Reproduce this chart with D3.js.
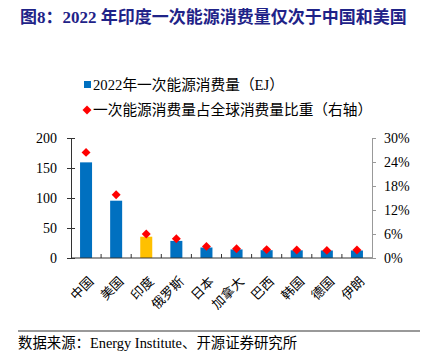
<!DOCTYPE html>
<html><head><meta charset="utf-8">
<script src="https://cdn.jsdelivr.net/npm/d3@7"></script>
<style>
body{margin:0;background:#fff;}
svg{display:block;}
</style></head>
<body>
<svg id="chart" width="426" height="355"></svg>
<script>
const categories = ["中国","美国","印度","俄罗斯","日本","加拿大","巴西","韩国","德国","伊朗"];
const consumption = [159.4, 95.5, 35.5, 28.5, 17.5, 14.3, 13.0, 12.8, 12.5, 12.5];
const share = [26.4, 15.8, 6.0, 4.8, 2.9, 2.3, 2.1, 2.0, 1.9, 2.0];
const leftTicks = [0, 50, 100, 150, 200];
const rightTicks = [0, 6, 12, 18, 24, 30];
const highlight = "印度";

const serif = "'Liberation Serif','Times New Roman','Noto Sans CJK SC',serif";
const svg = d3.select("#chart");

// title
svg.append("text").attr("x", 20).attr("y", 23)
  .attr("font-family", serif).attr("font-weight", "bold").attr("font-size", 17)
  .attr("fill", "#1f2388")
  .text("图8：2022 年印度一次能源消费量仅次于中国和美国");

// legend
svg.append("rect").attr("x", 84).attr("y", 81).attr("width", 7).attr("height", 7).attr("fill", "#0070C0");
svg.append("text").attr("x", 93).attr("y", 90).attr("font-family", serif).attr("font-size", 14.7).attr("fill", "#000")
  .text("2022年一次能源消费量（EJ）");
svg.append("path").attr("d", d3.symbol(d3.symbolSquare, 40)()).attr("transform", "translate(87,110) rotate(45)")
  .attr("fill", "#FF0000");
svg.append("text").attr("x", 93).attr("y", 115).attr("font-family", serif).attr("font-size", 14.7).attr("fill", "#000")
  .text("一次能源消费量占全球消费量比重（右轴）");

const xb = d3.scaleBand().domain(categories).range([71, 372]);
const yL = d3.scaleLinear().domain([0, 200]).range([258, 138]);
const yR = d3.scaleLinear().domain([0, 30]).range([258, 138]);

// bars
svg.append("g").selectAll("rect").data(categories).join("rect")
  .attr("x", (d) => xb(d) + xb.bandwidth()/2 - 6)
  .attr("width", 12)
  .attr("y", (d, i) => yL(consumption[i]))
  .attr("height", (d, i) => yL(0) - yL(consumption[i]))
  .attr("fill", d => d === highlight ? "#FFC000" : "#0070C0");

// left axis
const gl = svg.append("g").attr("transform", "translate(71,0)")
  .call(d3.axisLeft(yL).tickValues(leftTicks).tickSize(4).tickPadding(7).tickSizeOuter(0));
gl.select(".domain").attr("stroke", "#333");
gl.selectAll(".tick line").attr("x1", -4).attr("x2", 4).attr("stroke", "#333");
gl.selectAll("text").attr("font-family", serif).attr("font-size", 14).attr("fill", "#000").attr("dx", -3);

// right axis
const gr = svg.append("g").attr("transform", "translate(372,0)")
  .call(d3.axisRight(yR).tickValues(rightTicks).tickFormat(d => d + "%").tickSize(4).tickPadding(8).tickSizeOuter(0));
gr.select(".domain").attr("stroke", "#999");
gr.selectAll(".tick line").attr("stroke", "#999");
gr.selectAll("text").attr("font-family", serif).attr("font-size", 14).attr("fill", "#000");

// bottom axis
const gb = svg.append("g").attr("transform", "translate(0,258)");
gb.append("line").attr("x1", 71).attr("x2", 372).attr("stroke", "#333");
gb.selectAll("line.t").data(categories.slice(1)).join("line").attr("class", "t")
  .attr("x1", d => xb(d)).attr("x2", d => xb(d)).attr("y1", 0).attr("y2", -4).attr("stroke", "#333");
gb.selectAll("text").data(categories).join("text")
  .attr("transform", d => `translate(${xb(d) + xb.bandwidth()/2 + 1},${17}) rotate(-45)`)
  .attr("text-anchor", "end").attr("dy", "0.8em")
  .attr("font-family", serif).attr("font-size", 13).attr("fill", "#000")
  .text(d => d);

// diamonds
svg.append("g").selectAll("path").data(categories).join("path")
  .attr("d", d3.symbol(d3.symbolSquare, 40)())
  .attr("transform", (d, i) => `translate(${xb(d) + xb.bandwidth()/2},${yR(share[i])}) rotate(45)`)
  .attr("fill", "#FF0000");

// source line
svg.append("line").attr("x1", 18).attr("x2", 420).attr("y1", 331).attr("y2", 331).attr("stroke", "#999").attr("stroke-width", 2);
svg.append("text").attr("x", 18).attr("y", 348).attr("font-family", serif).attr("font-size", 14.4).attr("fill", "#000")
  .text("数据来源：Energy Institute、开源证券研究所");
</script>
</body></html>
